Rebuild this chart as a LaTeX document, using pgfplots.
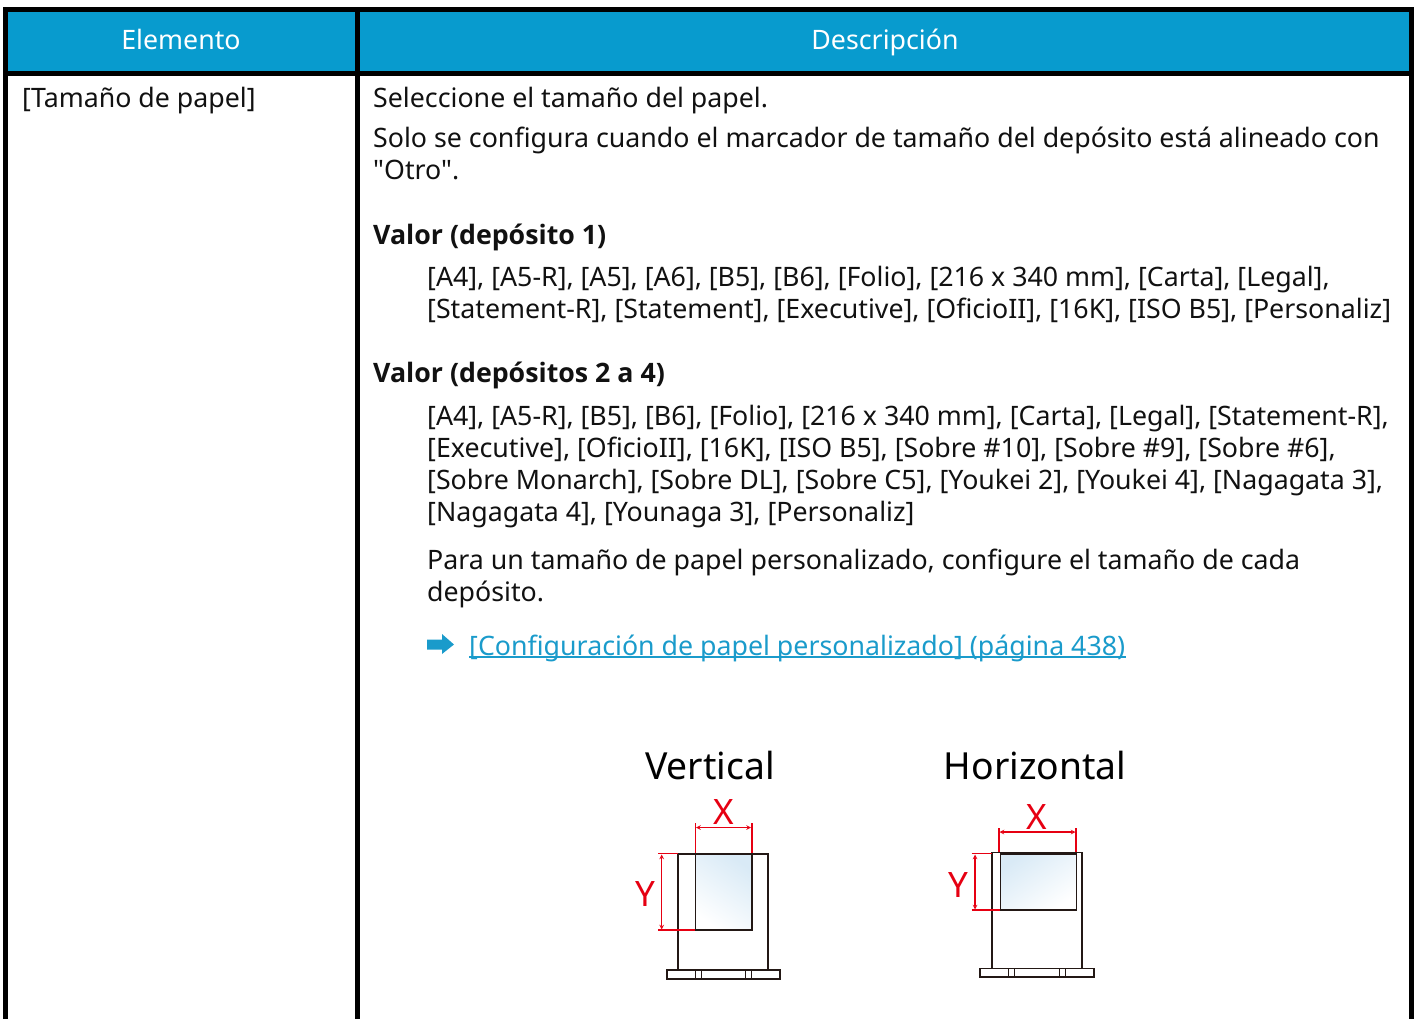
\documentclass[border=0pt]{standalone}
\usepackage{pgfplots}
\pgfplotsset{compat=1.18}
\usepackage{fontspec}
\setmainfont{Noto Sans}
\newfontfamily\nq{Noto Sans}
\newfontfamily\os{Open Sans}
\definecolor{hdr}{HTML}{089BCE}
\definecolor{lnk}{HTML}{1A9BCB}
\definecolor{rd}{HTML}{E60012}
\definecolor{txt}{HTML}{111111}
\definecolor{pap}{HTML}{D9EAF6}
\definecolor{trayc}{HTML}{231815}
\newcommand{\T}[3]{\node[anchor=base west,inner sep=0pt,text=txt] at (axis cs:#1,#2) {\fontsize{26.75}{32}\selectfont #3};}
\newcommand{\B}[3]{\node[anchor=base west,inner sep=0pt,text=txt] at (axis cs:#1,#2) {\os\fontsize{26.75}{32}\selectfont\bfseries #3};}
\begin{document}
\begin{tikzpicture}
\begin{axis}[scale only axis,width=1417pt,height=1018pt,xmin=0,xmax=1417,ymin=0,ymax=1018,y dir=reverse,hide axis]
\addplot[draw=none,forget plot] coordinates {(0,0)(1417,1018)};
% table
\addplot[fill=hdr,draw=none] coordinates {(5,10)(1412,10)(1412,73)(5,73)} -- cycle;
\addplot[black,line width=5pt] coordinates {(5.5,1025)(5.5,9.5)(1411.5,9.5)(1411.5,1025)};
\addplot[black,line width=5pt] coordinates {(5,73.5)(1412,73.5)};
\addplot[black,line width=5pt] coordinates {(357.5,9.5)(357.5,1025)};
% header
\node[anchor=base,inner sep=0pt,text=white] at (axis cs:181,49) {\fontsize{26.75}{32}\selectfont Elemento};
\node[anchor=base,inner sep=0pt,text=white] at (axis cs:885,49) {\fontsize{26.75}{32}\selectfont Descripción};
% body
\T{22}{107}{[Tamaño de papel]}
\T{373}{107}{Seleccione el tamaño del papel.}
\T{373}{147}{Solo se configura cuando el marcador de tamaño del depósito está alineado con}
\T{373}{179}{\nq"Otro".}
\B{373}{244}{Valor (depósito 1)}
\T{427}{286}{[A4], [A5-R], [A5], [A6], [B5], [B6], [Folio], [216 x 340 mm], [Carta], [Legal],}
\T{427}{318}{[Statement-R], [Statement], [Executive], [OficioII], [16K], [ISO B5], [Personaliz]}
\B{373}{382}{Valor (depósitos 2 a 4)}
\T{427}{425}{[A4], [A5-R], [B5], [B6], [Folio], [216 x 340 mm], [Carta], [Legal], [Statement-R],}
\T{427}{457}{[Executive], [OficioII], [16K], [ISO B5], [Sobre \#10], [Sobre \#9], [Sobre \#6],}
\T{427}{489}{[Sobre Monarch], [Sobre DL], [Sobre C5], [Youkei 2], [Youkei 4], [Nagagata 3],}
\T{427}{521}{[Nagagata 4], [Younaga 3], [Personaliz]}
\T{427}{569}{Para un tamaño de papel personalizado, configure el tamaño de cada}
\T{427}{601}{depósito.}
% link
\addplot[fill=lnk,draw=none] coordinates {(427,639.5)(442,639.5)(442,634)(454,644.5)(442,654)(442,649.5)(427,649.5)} -- cycle;
\node[anchor=base west,inner sep=0pt,text=lnk] at (axis cs:469,655) {\fontsize{26.75}{32}\selectfont [Configuración de papel personalizado] (página 438)};
\addplot[lnk,line width=1.8pt] coordinates {(469,657)(1126,657)};
% diagram titles
\node[anchor=base,inner sep=0pt,text=black] at (axis cs:710,779) {\fontsize{37.3}{44}\selectfont Vertical};
\node[anchor=base,inner sep=0pt,text=black] at (axis cs:1035,779) {\fontsize{37.3}{44}\selectfont Horizontal};
% vertical tray
\addplot[trayc,line width=1.6pt,shading=axis,left color=pap,right color=white,shading angle=-35] coordinates {(695.3,853.7)(752,853.7)(752,930)(695.3,930)} -- cycle;
\addplot[trayc,line width=1.8pt] coordinates {(678.3,970)(678.3,853.7)(768.3,853.7)(768.3,970)};
\addplot[trayc,line width=1.8pt] coordinates {(666.7,970)(780.3,970)(780.3,979)(666.7,979)} -- cycle;
\addplot[trayc,line width=.8pt] coordinates {(695.5,970)(695.5,979)};
\addplot[trayc,line width=.8pt] coordinates {(701.5,970)(701.5,979)};
\addplot[trayc,line width=.8pt] coordinates {(745.5,970)(745.5,979)};
\addplot[trayc,line width=.8pt] coordinates {(751.5,970)(751.5,979)};
% vertical dims
\addplot[rd,line width=1.1pt] coordinates {(695.3,853)(695.3,823)};
\addplot[rd,line width=1.1pt] coordinates {(752,853)(752,823)};
\addplot[rd,line width=1.1pt,<->,>=stealth] coordinates {(696,827.5)(751,827.5)};
\addplot[rd,line width=1.1pt] coordinates {(658,853.7)(678,853.7)};
\addplot[rd,line width=1.1pt] coordinates {(658,930)(695,930)};
\addplot[rd,line width=1.1pt,<->,>=stealth] coordinates {(661.7,854.5)(661.7,929.5)};
\node[text=rd,inner sep=0pt] at (axis cs:723.5,812) {\fontsize{35}{40}\selectfont X};
\node[text=rd,inner sep=0pt] at (axis cs:645.5,894) {\fontsize{35}{40}\selectfont Y};
% horizontal tray
\addplot[trayc,line width=1.6pt,shading=axis,left color=pap,right color=white,shading angle=35] coordinates {(1000.3,853.7)(1076.3,853.7)(1076.3,910)(1000.3,910)} -- cycle;
\addplot[trayc,line width=1.8pt] coordinates {(992,968)(992,852.5)(1081.7,852.5)(1081.7,968)};
\addplot[trayc,line width=1.8pt] coordinates {(980,968.5)(1093.7,968.5)(1093.7,977.3)(980,977.3)} -- cycle;
\addplot[trayc,line width=.8pt] coordinates {(1008.5,968)(1008.5,977)};
\addplot[trayc,line width=.8pt] coordinates {(1014.5,968)(1014.5,977)};
\addplot[trayc,line width=.8pt] coordinates {(1059,968)(1059,977)};
\addplot[trayc,line width=.8pt] coordinates {(1065,968)(1065,977)};
% horizontal dims
\addplot[rd,line width=1.1pt] coordinates {(999,852)(999,828)};
\addplot[rd,line width=1.1pt] coordinates {(1076,852)(1076,828)};
\addplot[rd,line width=1.1pt,<->,>=stealth] coordinates {(999.5,832)(1075.5,832)};
\addplot[rd,line width=1.1pt] coordinates {(971.7,853.7)(992,853.7)};
\addplot[rd,line width=1.1pt] coordinates {(971.7,910)(1000,910)};
\addplot[rd,line width=1.1pt,<->,>=stealth] coordinates {(975,854.5)(975,909.5)};
\node[text=rd,inner sep=0pt] at (axis cs:1037,817) {\fontsize{35}{40}\selectfont X};
\node[text=rd,inner sep=0pt] at (axis cs:958,885) {\fontsize{35}{40}\selectfont Y};
\end{axis}
\end{tikzpicture}
\end{document}
